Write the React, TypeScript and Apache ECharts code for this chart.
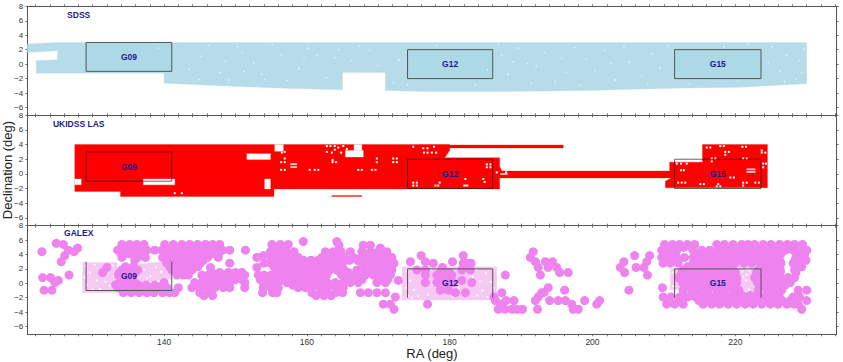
import React, { useEffect, useRef } from "react";
import * as echarts from "echarts";

const xMin = 120.85, xMax = 234.2, yMin = -7.08, yMax = 8;
const xTicks = [122,124,126,128,130,132,134,136,138,140,142,144,146,148,150,152,154,156,158,160,162,164,166,168,170,172,174,176,178,180,182,184,186,188,190,192,194,196,198,200,202,204,206,208,210,212,214,216,218,220,222,224,226,228,230,232,234];
const xLabels = [140, 160, 180, 200, 220];
const yTicks = [-6, -4, -2, 0, 2, 4, 6, 8];

const sdssArea = [[120.85,2.8],[125,3],[230,3],[230,-2.7],[220.7,-3.2],[211.6,-3.33],[199.2,-3.66],[186.1,-3.8],[176.5,-3.8],[171,-3.66],[171,-1.16],[165,-1.16],[165,-3.56],[156.7,-3.33],[147.8,-3],[140,-2.64],[140,-1.25],[122.1,-1.25],[122.1,0.5],[125.06,0.6],[125.06,1.85],[120.85,1.6]];
const sdssSpecks = [[145.2,1.1],[147.8,-1.2],[150.3,2.4],[152.6,0.2],[154.1,-2.1],[156.4,1.3],[158.9,-0.6],[160.2,2.2],[162.7,-1.9],[163.9,0.9],[149.1,-2.2],[146.3,2.6],[151.2,-1],[155.2,2.7],[159.6,0.8],[172.9,0.6],[172.1,-2.6],[168.8,1.9],[169.9,-0.2],[167.3,2.5],[187.3,1.2],[188.2,-1.4],[189.6,2.2],[190.9,0.1],[192.1,-0.3],[193.4,1.6],[194.8,-2.4],[196.3,-1.1],[197.5,2.3],[199.1,0.7],[200.4,-0.9],[201.7,1.9],[203.2,-2.2],[205.1,0.3],[206.9,-1.7],[208.3,1.4],[209.5,-0.5],[210.6,2.5],[225.1,2.4],[226.3,-0.9],[227.2,1.2],[228.5,-2],[229.6,2.1],[229.3,-1.1],[186.8,2.7],[185.3,-0.8],[221.7,2.7],[139.2,2.2],[143.5,-0.7],[144.9,-2.1],[148.6,0.4],[150.9,1.6],[153.7,-1.4],[157.2,-2.3],[161.4,1.2],[164.5,2],[166.2,0.5],[174.1,-2.9],[178.2,2.6],[183.6,-2.9],[188.9,0.3],[191.4,-2.6],[195.7,0.8],[198.3,-2.9],[202.6,0.1],[204.4,2.4],[207.7,-2.7],[213.6,-2.7],[218.4,2.4],[224.6,0.2],[226.9,-2.4],[228.9,0.5]];

const lasArea = [[127.5,4],[180,4],[180,3.2],[179.3,2.2],[187,2.2],[187,1],[187.3,0.4],[210.8,0.4],[210.8,1.6],[215.4,1.6],[215.4,4],[224.5,4],[224.5,-1.9],[210.2,-1.9],[210.2,-1],[211,-0.55],[187,-0.55],[187,-2.05],[155.4,-2.05],[155.4,-3.1],[133.9,-3.1],[133.9,-2.4],[127.5,-2.4]];
const lasStripTop = [[175.8,3.95],[195.9,3.95],[195.9,3.55],[175.8,3.55]];
const lasStripLow = [[163.5,-2.95],[167.7,-2.95],[167.7,-3.1],[163.5,-3.1]];
const lasGaps = [
  [[127.5,-1.5],[128.4,-1.5],[128.4,-0.7],[127.5,-0.7]],
  [[137.1,-1.5],[141.5,-1.5],[141.5,-0.7],[137.1,-0.7]],
  [[151.6,1.95],[154.9,1.95],[154.9,2.75],[151.6,2.75]],
  [[154.1,-2.05],[154.9,-2.05],[154.9,-0.7],[154.1,-0.7]],
  [[155.5,3.1],[156.7,3.1],[156.7,4],[155.5,4]],
  [[166.6,3.2],[167.7,3.2],[167.7,4],[166.6,4]],
  [[165.4,2.3],[167.9,2.3],[167.9,3.2],[165.4,3.2]],
  [[157.7,1.25],[158.6,1.25],[158.6,1.4],[157.7,1.4]],
  [[157.7,0.85],[158.6,0.85],[158.6,1],[157.7,1]],
  [[221.6,0.55],[222.8,0.55],[222.8,0.7],[221.6,0.7]],
  [[221.6,0.2],[222.8,0.2],[222.8,0.35],[221.6,0.35]],
  [[181.9,-1.7],[182.6,-1.7],[182.6,-1.5],[181.9,-1.5]],
  [[187.1,-0.1],[188.1,-0.1],[188.1,0.05],[187.1,0.05]],
];
const lasHoles = [[141.5,-2.64],[142.5,-2.64],[156.9,3],[156.5,2.9],[156.9,2.1],[156.9,1.6],[156.4,1.6],[156.9,0.55],[156.4,0.55],[160.4,0.55],[161.6,0.55],[161.1,0.55],[162.8,3.8],[163.3,3.8],[163.9,3.8],[164.4,3.6],[165.1,3.8],[165.6,3.4],[162.8,3],[163.5,2.9],[163.9,3.3],[164.8,2.9],[163.6,1.6],[164.1,1.6],[163.6,1.9],[167.2,0.55],[167.7,0.55],[169.1,0.55],[169.6,0.55],[169.8,2.1],[169.8,1.6],[172.1,2.1],[172.1,1.6],[172.6,2.1],[172.6,1.6],[174.9,-1.2],[175.4,-1.2],[174.9,-1.6],[175.4,-1.6],[174.9,3.7],[176.3,3.5],[176.9,3.5],[176.4,2.9],[176.9,2.9],[177.8,3.7],[177.5,2.9],[178.1,2.9],[185.2,1.3],[185.7,1.3],[185.2,0.9],[185.7,0.9],[184.7,-0.7],[184.9,-1.1],[178.6,-1.2],[178,-1.6],[178.4,-1.6],[182.2,-0.7],[187.9,0.2],[186.6,0.2],[211.8,1.4],[212.4,1.4],[213.2,1.4],[212.4,0.5],[212.8,0.5],[212,-1.2],[212.5,-1.2],[213,-1.2],[215.1,-1.4],[215.6,-1.4],[217.6,-1.4],[217.4,-1.7],[217.9,-1.7],[221.1,-1.2],[221.6,-1.2],[221.1,-1.6],[222.8,-1.2],[223.3,-1.2],[223.9,1.4],[224.3,1.4],[223.9,0.9],[216.7,2.1],[217.2,2.1],[216.7,1.7],[221.1,2.1],[221.6,2.1],[218.6,3],[219.1,3],[218.6,2.6],[223.7,2.9],[224.2,2.9],[223.7,3.2],[221,3.7],[221.5,3.7],[216,3.6],[216.5,3.6],[217.9,3.8],[218.4,3.8],[219.3,-0.5],[219.8,-0.5]];

const galexRows: [number, number[]][] = [
  [5.55,[124.9]],[5.4,[125.9,134.1,135.2,136.2,137.2,140.1,141.3,142.5,143.6,144.7,145.8,146.8,147.8,155.1,156.3,157.4,210.1,211.2,212.2,213.3,214.3,217.4,218.5,219.7,220.9,221.8,222.7,223.9,225,226.2,227.3,228.3,229.4]],
  [5.8,[159.5,164.2]],[5.3,[167.9,168.9,164.5]],[4.9,[170.3,127.9]],
  [4.6,[126.6,133.5,134.5,135.6,136.6,137.6,138.7,139.7,140.8,141.8,142.9,144.1,145,146.2,147.1,148.2,149.2,151.4,209.7,210.7,211.8,214.1,215.3,216.4,217.6,218.8,220,221.2,222.3,223.5,224.7,225.8,227,228.1,229.3,230]],
  [4.4,[127.4,122.9,154.9,156,157.2,158.2,162.6,163.7,164.8,166.1,167.7,168.9,170,171.2,191.7]],
  [3.85,[126.1,153.9,155,176,181.9,205.9,208]],
  [3.6,[134.1,136.3,137.4,139.8,140.8,141.9,142.9,144,145,146.1,147.6,153,155.3,156.5,157.7,158.8,162.1,163.2,164.2,165.2,166.5,167.6,168.6,169.7,170.7,171.9,191.3,209.7,210.7,211.8,212.9,214.1,215.3,216.4,217.6,218.8,220,221.2,222.3,223.5,224.7,225.8,228.5,229.5]],
  [3,[125.6,174.5,176.6,180.4,193.4,192,194.4,204.4,207.6]],
  [2.8,[140.4,141.3,142.2,143.2,144.2,145.1,149.2,154,154.9,156,157.2,158.2,159.3,161.6,162.8,164,165,167.7,168.9,170,171.2,172.2,177.7,181.9,182.4,183,209.9,210.9,212,214.1,215.3,216.4,217.6,218.8,220,221.2,222.3,223.5,224.7,225.8,226.4,228.1,228.8]],
  [2.2,[132,146.5,153,179,192.4,193.8,195,203.9,206.1,207.2]],
  [1.85,[134.1,135.2,136.3,141.1,142,142.9,143.9,155.8,156.5,157.7,158.8,160,161.2,162.1,163.2,164.2,165.2,167,168.3,169.5,170.6,171.9,175.4,176.6,181.7,182.9,212.7,213.9,215,216.2,217.4,218.5,219.7,223.2,224.4,225.5,226.3,228.3]],
  [1.5,[131.4,195.4,204.5,196.6,179.8]],
  [1.15,[126.7,133.6,134.5,135.6,141.8,142.7,143.4,145.3,146.2,147.3,148.4,149.5,150.4,151.3,153.2,154,155,156,157.2,158.4,159.5,160.7,161.9,162.8,164.9,166.1,167.2,168.2,169.3,170.5,171.7,176.6,178.2,179.1,180.3,187.8,192.7,207.7]],
  [0.8,[123,124.1,212,213.2,214.3,215.5,216.7,217.8,219,220.2,222.7,223.9,225.1,226.2,227.4,228.3]],
  [0.4,[125.2,172.8,181.7]],
  [0.1,[124.7,133.8,134.8,135.9,140,144.3,145.3,146.3,147.4,148.4,149.2,151.3,153.9,155,156,157.2,158.4,159.5,160.7,161.9,162.8,164,165.1,166.1,167.2,169.8,171,176.6,178.2,179.4,180.5,183.1,212.6,213.7,214.9,216,217.2,218.4,219.5,220.2,223.1,224.2,225.4,226.6,227.7]],
  [-0.6,[133.6,134.8,135.7,136.9,138,139.2,140.4,142,143.9,145,146.1,147.1,148.3,149.2,151.3,153.9,155,156,158.8,159.8,160.7,161.9,162.8,164,165.1,193.8,209.8]],
  [-0.95,[123.2,124.3,178.7,179.8,196.1,205.1,212.7,213.9,215,216.2,217.4,218.5,219.7,220.5,223.2,224.4,225.5,226.5,228.8,230]],
  [-1.3,[134.3,135.4,136.5,137.6,138.6,139.8,140.8,141.5,145,146.2,153.8,155.2,155.8,160.7,161.9,162.8,164,165,167.5,168.6,169.8,171,180.8,182.2,187.3,192.9,193.2]],
  [-1.9,[172.4,192.4,186.2,209.9,211,212.2,213.3,214.5,215.7,216.8,218,219.2,220.3,221.5,222.7,223.9,225,226.2,228.1,229]],
  [-2.4,[192,194,195.2,196.2,198.9,201,230,186.4,187.9,189]],
  [-2.9,[170.7,171.7,176.9,187.1,197.1,200.6,210.4,211.5,212.7,215.5,216.7,217.8,219,220.2,221.4,222.5,223.7,224.9,226,227.2,228.2,228.8]],
  [-3.6,[172.2,186.8,187.7,188.7,189.4,190.2,192.3,197.3,198,229.3]],
];
// Tiles between the rows above, where the reference is one solid mass
const galexFill: [number, number[]][] = [
  [5,[134.7,135.7,136.7,140.7,141.9,143,144.2,145.2,146.3,147.3,155.7,156.9,210.6,211.7,212.8,213.8,217.9,219.1,220.3,221.4,222.3,223.3,224.4,225.6,226.8,227.8,228.9]],
  [4.1,[134,135.1,136.1,137.1,140.2,141.3,142.4,143.5,144.5,145.6,146.6,147.6,155.5,156.6,157.7,163.2,164.3,168.3,169.4,170.6,210.2,211.3,214.7,215.8,217,218.2,219.4,220.6,221.7,222.9,224.1,225.2,226.4,228.8,229.7]],
  [3.2,[135.9,140.3,141.4,142.5,143.6,144.5,145.5,155,156.1,157.1,158.3,159.5,160.6,161.6,162.5,163.6,164.7,166,167.1,168.1,169.2,170.3,171.5,210.2,211.3,214.7,215.8,217,218.2,219.4,220.6,221.7,222.9,224.1,225.2,226.2,228.4,229.1,229.9]],
  [2.3,[134.6,135.7,140.8,141.8,142.6,143.7,144.7,155.4,156.5,157.7,158.8,159.9,160.9,162.3,163.4,164.6,168.2,169.4,170.5,171.6,213.3,214.5,215.6,216.8,218,219.2,223.8,225,226.1,228.6,229.3]],
  [1.5,[133.8,134.9,135.9,142.4,143.4,146.7,147.8,149,150,150.9,156.1,157.2,158.3,159.4,160.6,161.7,162.8,164.7,165.8,167.6,168.9,170,171.2,178.7,179.9,212.5,213.5,214.6,215.8,217,218.1,219.3,220,223,224,225.1,226.3,228.5]],
  [0.5,[134.3,135.3,145.8,146.8,147.9,149,150,151,153.5,154.5,155.5,156.6,157.8,158.9,160.1,161.3,162.4,165.5,166.6,167.7,170.1,171.3,178.8,180,212.4,213.5,214.7,215.9,217.1,218.2,219.4,223,224.3,225.4,226.6,227.9]],
  [-0.25,[133.2,135.3,136.4,137.5,138.7,139.8,144.8,145.8,146.9,147.9,148.9,154.4,155.5,158,159.1,160.2,161.4,162.4,163.4,164.5,213.2,214.3,215.5,216.7,217.8,219,223.6,224.8,226,227]],
  [-1.7,[145.6,146.8,161.3,162.4,163.4,212.8,213.9,215.1,216.2,217.4,218.6,219.8,221,222.1,223.3,224.5,225.6]],
  [-2.4,[212.2,214.9,216.2,217.3,218.5,219.7,220.8,222,223.2,224.3,225.5,226.6,227.7]],
];
const galexPale = [
  [[128.6,2.9],[133.4,2.9],[133.8,-1.3],[128.6,-1.3]],
  [[135.8,2.6],[140.9,3.1],[141,0.6],[136,0]],
  [[173.3,2.3],[186.6,2.3],[186.6,-2.3],[173.3,-2.3]],
  [[220.5,2.5],[222.6,2.5],[222.8,-1.7],[220.5,-1.7]],
  [[210.9,2.1],[212.3,2.1],[212.3,-0.9],[210.9,-0.9]],
];
const galexSpecks = [[129,2.4],[129.6,1.5],[130.3,2.6],[130.6,0.4],[129.2,-0.2],[131,-0.8],[131.8,0.2],[132.4,-0.3],[132.8,2.5],[133,1],[130,-0.9],[128.9,0.8],[137.2,1.9],[138.1,1],[138.9,2.2],[137.6,0.7],[139.6,1.6],[140.4,2.4],[174,1.7],[174.5,0.4],[175,-0.9],[174.2,-1.7],[175.6,-1.8],[177,-1.6],[177.6,-0.2],[177.4,1.9],[178.3,1.9],[180.4,-1.9],[181.1,1.9],[181.3,-0.7],[183.2,0.9],[183.7,1.9],[184.2,0.3],[184.6,-1],[185.1,1.4],[185.3,-1.9],[185.8,0.2],[183.9,-1.7],[186.1,-0.6],[175.2,1.5],[173.9,-0.6],[174.7,-2],[211.2,1.5],[211.6,0.6],[211.3,-0.4],[220.9,1.6],[221.6,1.2],[221.5,0.4],[221.9,-0.9],[222,-1.3],[221.7,2],[222,1.8],[221.4,-1.2],[222.2,0.8],[221.1,0.9]];

const boxNames = ["G09", "G12", "G15"];
const boxRa = [[129.08,141.08],[174.1,186.03],[211.5,223.6]];
const boxDec = [[-1,3],[-2,2],[-2,2]];
const labelDec = [0.97, 0, 0];
const panelTitles = ["SDSS", "UKIDSS LAS", "GALEX"];
const yName = "Declination (deg)";

const GRIDS = [
  { top: 6.3, height: 109 },
  { top: 115.3, height: 110.4 },
  { top: 225.7, height: 108.6 },
];
const NAVY = "#1a1a8c";
const AXIS = "#555555";

function polySeries(axis: number, polys: number[][][], color: string, z: number) {
  return {
    type: "custom", xAxisIndex: axis * 2, yAxisIndex: axis * 2, z, silent: true, clip: true,
    encode: { x: 0, y: 1 },
    data: polys.map((p) => p[0]),
    renderItem: (params: any, api: any) => ({
      type: "polygon",
      shape: { points: polys[params.dataIndex].map((q) => api.coord(q)) },
      style: { fill: color, stroke: color, lineWidth: 0.3 },
    }),
  };
}
function dotSeries(axis: number, pts: number[][], color: string, size: number, symbol: string, z: number) {
  return {
    type: "scatter", xAxisIndex: axis * 2, yAxisIndex: axis * 2, z, silent: true,
    symbol, symbolSize: size, large: false, data: pts,
    itemStyle: { color, opacity: 1 },
  };
}
function boxSeries(axis: number, edges: number[][][], color: string, width: number) {
  return {
    type: "custom", xAxisIndex: axis * 2, yAxisIndex: axis * 2, z: 20, silent: true,
    encode: { x: 0, y: 1 },
    data: edges.map((e) => e[0]),
    renderItem: (params: any, api: any) => ({
      type: "polyline",
      shape: { points: edges[params.dataIndex].map((q) => api.coord(q)) },
      style: { fill: "none", stroke: color, lineWidth: width },
    }),
  };
}
function labelSeries(axis: number) {
  return {
    type: "custom", xAxisIndex: axis * 2, yAxisIndex: axis * 2, z: 30, silent: true,
    encode: { x: 0, y: 1 },
    data: boxNames.map((_, i) => [(boxRa[i][0] + boxRa[i][1]) / 2, labelDec[i]]),
    renderItem: (params: any, api: any) => {
      const c = api.coord([api.value(0), api.value(1)]);
      return {
        type: "text", x: c[0], y: c[1],
        style: { text: boxNames[params.dataIndex], fill: NAVY, align: "center", verticalAlign: "middle", font: "bold 8.5px 'Liberation Sans'" },
      };
    },
  };
}
const closedBox = (i: number) => [[boxRa[i][0],boxDec[i][1]],[boxRa[i][1],boxDec[i][1]],[boxRa[i][1],boxDec[i][0]],[boxRa[i][0],boxDec[i][0]],[boxRa[i][0],boxDec[i][1]]];
const openBoxBottom = (i: number) => [[boxRa[i][0],boxDec[i][1]],[boxRa[i][0],boxDec[i][0]],[boxRa[i][1],boxDec[i][0]],[boxRa[i][1],boxDec[i][1]]];
const openBoxTop = (i: number) => [[boxRa[i][0],boxDec[i][0]],[boxRa[i][0],boxDec[i][1]],[boxRa[i][1],boxDec[i][1]],[boxRa[i][1],boxDec[i][0]]];

export default function App() {
  const ref = useRef<HTMLDivElement>(null);
  useEffect(() => {
    document.body.style.margin = "0";
    const chart = echarts.init(ref.current!, undefined, { renderer: "svg" });
    const xAxis: any[] = [];
    const yAxis: any[] = [];
    const line = { show: true, onZero: false, lineStyle: { color: AXIS, width: 1 } };
    const tick = { show: true, inside: false, length: 2, lineStyle: { color: AXIS, width: 0.8 } };
    GRIDS.forEach((_, g) => {
      ["bottom", "top"].forEach((position, k) => {
        xAxis.push({
          type: "value", gridIndex: g, position, min: xMin, max: xMax, splitLine: { show: false },
          axisLine: line, axisTick: { ...tick, customValues: xTicks },
          axisLabel: g === 2 && k === 0
            ? { show: true, customValues: xLabels, color: "#333", fontSize: 8.5, margin: 3, fontFamily: "Liberation Sans" }
            : { show: false },
          ...(g === 2 && k === 0
            ? { name: "RA (deg)", nameLocation: "middle", nameGap: 9, nameTextStyle: { color: "#222", fontSize: 13, fontFamily: "Liberation Sans" } }
            : {}),
        });
        yAxis.push({
          type: "value", gridIndex: g, position: k === 0 ? "left" : "right", min: yMin, max: yMax, splitLine: { show: false },
          axisLine: line, axisTick: { ...tick, customValues: yTicks },
          axisLabel: k === 0
            ? { show: true, customValues: yTicks, color: "#333", fontSize: 8, margin: 4, fontFamily: "Liberation Sans", formatter: (v: number) => String(v).replace("-", "\u2212") }
            : { show: false },
        });
      });
    });
    const galexPts: number[][] = [];
    [...galexRows, ...galexFill].forEach(([dec, ras]) => ras.forEach((ra) => galexPts.push([ra, dec])));

    chart.setOption({
      animation: false,
      backgroundColor: "#ffffff",
      grid: GRIDS.map((g) => ({ left: 27.3, right: 6.3, top: g.top, height: g.height, containLabel: false, outerBoundsMode: "none" })),
      xAxis,
      yAxis,
      graphic: [
        ...panelTitles.map((t, i) => ({
          type: "text", x: 78.7, y: [14.7, 124, 233.3][i], z: 40, silent: true,
          style: { text: t, fill: NAVY, align: "center", verticalAlign: "middle", font: "bold 8.5px 'Liberation Sans'" },
        })),
        {
          type: "text", x: 7, y: 170, rotation: Math.PI / 2, z: 40, silent: true,
          style: { text: yName, fill: "#222", align: "center", verticalAlign: "middle", font: "13px 'Liberation Sans'" },
        },
      ],
      series: [
        polySeries(0, [sdssArea], "#b6dce9", 2),
        polySeries(0, boxRa.map((_, i) => closedBox(i)), "#add8e6", 2.5),
        dotSeries(0, sdssSpecks, "#e6f3f8", 1.6, "circle", 3),
        boxSeries(0, boxRa.map((_, i) => closedBox(i)), "#555555", 1),
        labelSeries(0),
        polySeries(1, [lasArea, lasStripTop, lasStripLow], "#ff0000", 2),
        polySeries(1, lasGaps, "#ffffff", 3),
        dotSeries(1, lasHoles, "#ffffff", 2, "rect", 4),
        boxSeries(1, boxRa.map((_, i) => closedBox(i)), "#222222", 0.7),
        labelSeries(1),
        polySeries(2, galexPale, "#f6c9f3", 2),
        dotSeries(2, galexSpecks, "#ffffff", 2.2, "circle", 2.5),
        dotSeries(2, galexPts, "#ee82ee", 9, "circle", 3),
        boxSeries(2, [openBoxBottom(0), openBoxTop(1), openBoxTop(2)], "#555555", 1),
        labelSeries(2),
      ],
    });
    return () => chart.dispose();
  }, []);
  return <div ref={ref} style={{ width: 843, height: 362 }} />;
}
